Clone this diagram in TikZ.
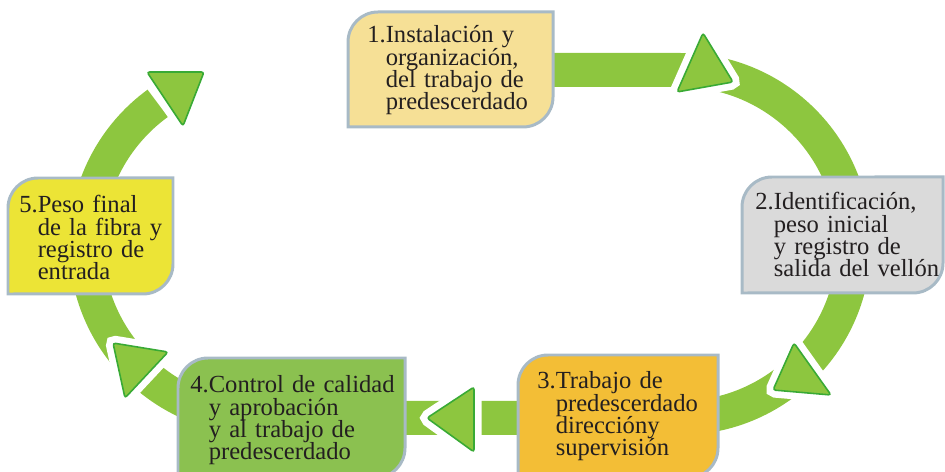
\documentclass[tikz,border=0pt]{standalone}
\usepackage{fontspec}
\setmainfont[WordSpace=0.8]{Liberation Serif}
\usepackage{xcolor}
\definecolor{ringgreen}{RGB}{141,198,63}
\definecolor{darkgreen}{RGB}{57,170,53}
\definecolor{edgegray}{RGB}{168,186,198}
\definecolor{fillsand}{RGB}{246,224,150}
\definecolor{fillgray}{RGB}{218,218,218}
\definecolor{fillgold}{RGB}{243,190,54}
\definecolor{fillleaf}{RGB}{139,193,80}
\definecolor{fillyellow}{RGB}{236,228,54}
\definecolor{inkdark}{RGB}{35,31,32}

\newcommand{\stepfont}{\fontsize{14}{12.7}\selectfont\lineskiplimit=-1em\relax}
% box outline: rounded top left and bottom right corners
\newcommand{\leafpath}[4]{(#1,#2) -- (#1,#4-30) arc[start angle=180,end angle=90,radius=0.6cm] -- (#3,#4) -- (#3,#2+30) arc[start angle=0,end angle=-90,radius=0.6cm] -- cycle}

\tikzset{
    stepbox/.style={draw=edgegray, line width=1.7pt},
    steptext/.style={anchor=base west, inner sep=0pt, text width=5cm, align=left, text=inkdark, font=\stepfont},
    ring/.style={draw=ringgreen, line width=0.68cm},
    tip/.style={fill=ringgreen, draw=darkgreen, line width=0.9pt, rounded corners=1.5pt,
        preaction={draw=white, line width=0.3cm, rounded corners=1.5pt}}
}

\begin{document}
\begin{tikzpicture}[x=0.02cm, y=0.02cm]
    \useasboundingbox (0,0) rectangle (945,472);

    % Ring
    \coordinate (ringL) at (260,228);
    \coordinate (ringR) at (680,228);
    \draw[ring] (450,402) -- (ringR |- 0,402) arc[start angle=90,end angle=-90,radius=3.48cm]
        -- (ringL |- 0,54) arc[start angle=270,end angle=126,radius=3.48cm];

    % Arrow heads
    \draw[tip] (703,439) -- (733,390) -- (677,380) -- cycle;
    \draw[tip] (794,129) -- (773,82) -- (831,77) -- cycle;
    \draw[tip] (427,54) -- (474,85) -- (474,20) -- cycle;
    \draw[tip] (113,129) -- (168,120) -- (125,74) -- cycle;
    \draw[tip] (147,400) -- (204,400) -- (183,346) -- cycle;

    % Step 1
    \draw[stepbox, fill=fillsand] \leafpath{348}{345}{553}{460};
    \node[steptext] (s1) at (367,429) {1.Instalación y\\\hphantom{1.}organización,\\\hphantom{1.}del trabajo de\\\hphantom{1.}predescerdado};

    % Step 2
    \draw[stepbox, fill=fillgray] \leafpath{742}{179}{943}{295};
    \node[steptext] (s2) at (755,262) {2.Identificación,\\\hphantom{2.}peso inicial\\\hphantom{2.}y registro de\\\hphantom{2.}salida del vellón};

    % Step 3
    \draw[stepbox, fill=fillgold] \leafpath{518}{-6}{718}{117};
    \node[steptext] (s3) at (537,83) {3.Trabajo de\\\hphantom{3.}predescerdado\\\hphantom{3.}direccióny\\\hphantom{3.}supervisión};

    % Step 4
    \draw[stepbox, fill=fillleaf] \leafpath{178}{-6}{405}{114};
    \node[steptext] (s4) at (190,79) {4.Control de calidad\\\hphantom{4.}y aprobación\\\hphantom{4.}y al trabajo de\\\hphantom{4.}predescerdado};

    % Step 5
    \draw[stepbox, fill=fillyellow] \leafpath{8}{178}{173}{294};
    \node[steptext] (s5) at (19,259) {5.Peso final\\\hphantom{5.}de la fibra y\\\hphantom{5.}registro de\\\hphantom{5.}entrada};
\end{tikzpicture}
\end{document}
